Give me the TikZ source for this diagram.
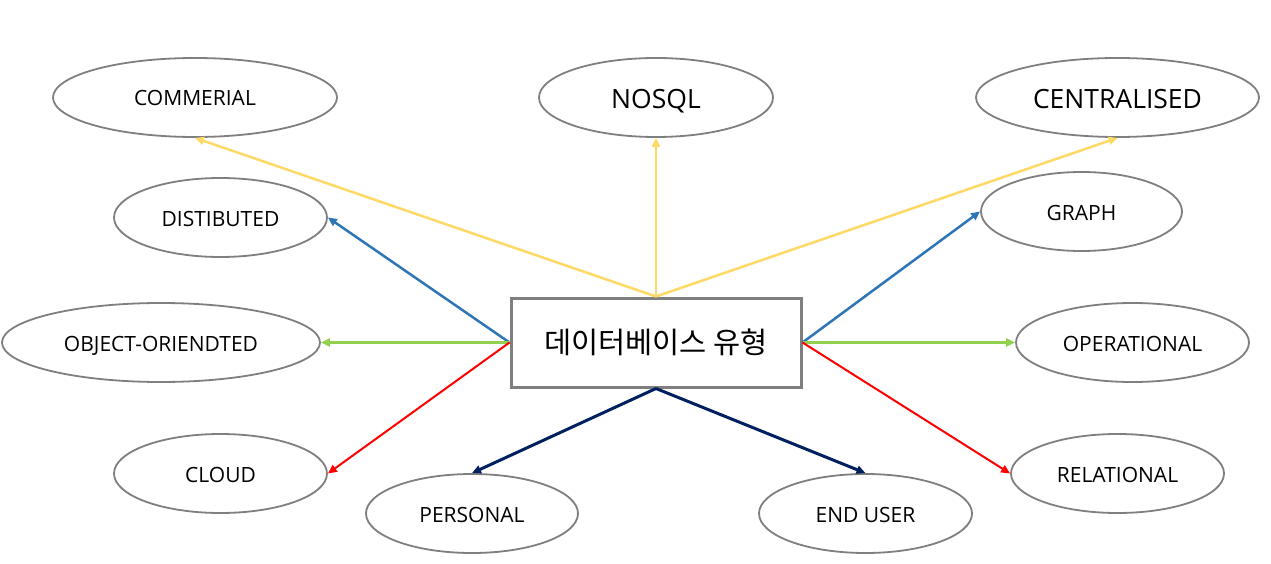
\documentclass[tikz,border=0pt]{standalone}
\usepackage{fontspec}
\setmainfont{Open Sans}
\newfontfamily\kr{Noto Sans CJK KR}
\usetikzlibrary{shapes.geometric,arrows.meta}
\definecolor{ygold}{HTML}{FFD966}
\definecolor{lblue}{HTML}{2E75B6}
\definecolor{lgreen}{HTML}{92D050}
\definecolor{lred}{HTML}{FF0000}
\definecolor{lnavy}{HTML}{002060}
\definecolor{bgray}{HTML}{7F7F7F}
\tikzset{
  oval/.style={ellipse, draw=bgray, line width=1.8pt, inner sep=0pt,
    minimum height=79pt, font=\fontsize{21}{25}\selectfont,
    text height=17pt, text depth=0pt},
  bigoval/.style={oval, font=\fontsize{26.5}{31}\selectfont, text height=22pt},
  centerbox/.style={rectangle, draw=bgray, line width=3pt, inner sep=0pt,
    minimum width=290pt, minimum height=89pt, font=\kr\fontsize{29.5}{34}\selectfont},
  conn/.style={line width=2.5pt, -{Triangle[length=9pt,width=8pt]}},
}
\begin{document}
\begin{tikzpicture}[x=1pt,y=-1pt]
\useasboundingbox (0,0) rectangle (1271,564);
\node[centerbox] (box) at (656,342.5) {데이터베이스 유형};
\node[oval, minimum width=284pt] (comm) at (195,97.5) {COMMERIAL};
\node[bigoval, minimum width=234pt] (nosql) at (656,97.5) {NOSQL};
\node[bigoval, minimum width=283pt] (cent) at (1117.5,97.5) {CENTRALISED};
\node[oval, minimum width=213pt] (dist) at (220.5,217.5) {DISTIBUTED};
\node[oval, minimum width=201pt] (graph) at (1081.5,211.5) {GRAPH};
\node[oval, minimum width=318pt] (obj) at (161,342.5) {OBJECT-ORIENDTED};
\node[oval, minimum width=233pt] (oper) at (1132.5,342.5) {OPERATIONAL};
\node[oval, minimum width=213pt] (cloud) at (220.5,473.5) {CLOUD};
\node[oval, minimum width=213pt] (rel) at (1117.5,473.5) {RELATIONAL};
\node[oval, minimum width=212pt] (pers) at (472,513.5) {PERSONAL};
\node[oval, minimum width=213pt] (end) at (865.5,513.5) {END USER};
\draw[conn, ygold] (box.north) -- (comm.south);
\draw[conn, ygold] (box.north) -- (nosql.south);
\draw[conn, ygold] (box.north) -- (cent.south);
\draw[conn, lblue] (box.west) -- (dist.east);
\draw[conn, lblue] (box.east) -- (graph.west);
\draw[conn, lgreen] (box.west) -- (obj.east);
\draw[conn, lgreen] (box.east) -- (oper.west);
\draw[conn, lred, line width=2pt] (box.west) -- (cloud.east);
\draw[conn, lred, line width=2pt] (box.east) -- (rel.west);
\draw[conn, lnavy, line width=3pt] (box.south) -- (pers.north);
\draw[conn, lnavy, line width=3pt] (box.south) -- (end.north);
\end{tikzpicture}
\end{document}
